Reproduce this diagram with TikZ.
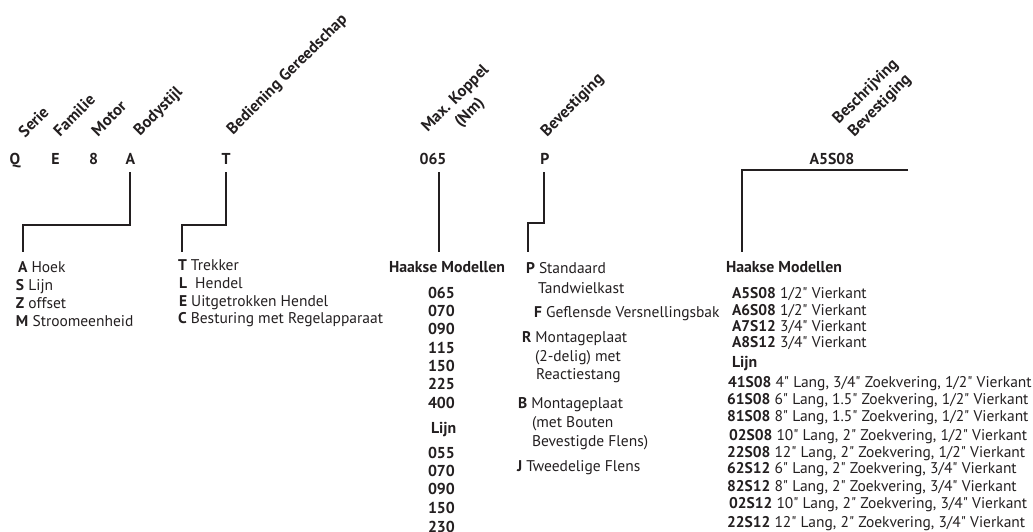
\documentclass[tikz,border=0pt]{standalone}
\usepackage{fontspec}
\setmainfont{PT Sans}[Ligatures=TeXOff]
\definecolor{ink}{HTML}{231F20}
\newcommand\rmsize{\fontsize{15.5}{17}\selectfont}
\newcommand\bfsize{\fontsize{15.8}{17}\selectfont\bfseries}
\begin{document}
\begin{tikzpicture}[x=1pt,y=-1pt,
  every node/.style={inner sep=0pt, outer sep=0pt, text=ink, font=\rmsize},
  code/.style={anchor=base, font=\bfsize},
  hdr/.style={anchor=base west, rotate=45, font=\fontsize{16.2}{17}\selectfont\bfseries},
  hdr2/.style={anchor=center, rotate=45, align=center, font=\fontsize{16.2}{20}\selectfont\bfseries},
  item/.style={anchor=base west},
  bitem/.style={anchor=base west, font=\bfsize},
  conn/.style={draw=ink, line width=1.9pt}]
\useasboundingbox (0,0) rectangle (1033,531);

% type code letters
\node[code] (cQ) at (15,164) {Q};
\node[code] (cE) at (55.5,164) {E};
\node[code] (c8) at (93.5,164) {8};
\node[code] (cA) at (130.5,164) {A};
\node[code] (cT) at (226,164) {T};
\node[code] (cK) at (433,164) {065};
\node[code] (cP) at (545,164) {P};
\node[code] (cB) at (832,164) {A5S08};

% slanted headings
\node[hdr] (hSerie) at (25,138) {Serie};
\node[hdr] (hFam) at (60,137) {Familie};
\node[hdr] (hMot) at (98,137) {Motor};
\node[hdr] (hBody) at (140,136) {Bodystijl};
\node[hdr] (hBed) at (233,135) {Bediening Gereedschap};
\node[hdr2] (hKop) at (463,106) {Max. Koppel\\(Nm)};
\node[hdr] (hBev) at (547,137) {Bevestiging};
\node[hdr2] (hBes) at (873,99) {Beschrijving\\Bevestiging};

% body style list
\node[item] (lA) at (18,272) {\textbf{A} Hoek};
\node[item] (lS) at (16,290) {\textbf{S} Lijn};
\node[item] (lZ) at (16,308) {\textbf{Z} offset};
\node[item] (lM) at (16,326) {\textbf{M} Stroomeenheid};

% operation list
\node[item] (lT) at (178,270) {\textbf{T} Trekker};
\node[item] (lL) at (179,288) {\textbf{L}\ \ Hendel};
\node[item] (lE) at (179,306) {\textbf{E} Uitgetrokken Hendel};
\node[item] (lC) at (178,323) {\textbf{C} Besturing met Regelapparaat};

% torque list
\node[anchor=base, font=\bfsize] (kH) at (447,272) {Haakse Modellen};
\foreach \n/\v/\y in {k1/065/298,k2/070/316,k3/090/334,k4/115/353,k5/150/371,k6/225/389,k7/400/408,
                      k9/055/458,k10/070/476,k11/090/494,k12/150/513,k13/230/532}
  \node[bitem] (\n) at (428,\y) {\v};
\node[bitem] (kL) at (431,433) {Lijn};

% mounting list
\node[item] (mP) at (526,273) {\textbf{P} Standaard};
\node[item] (mP2) at (538,293) {Tandwielkast};
\node[item] (mF) at (534,317) {\textbf{F} Geflensde Versnellingsbak};
\node[item] (mR) at (522,342) {\textbf{R} Montageplaat};
\node[item] (mR2) at (535,361) {(2-delig) met};
\node[item] (mR3) at (536,379) {Reactiestang};
\node[item] (mB) at (518,408) {\textbf{B} Montageplaat};
\node[item] (mB2) at (532,427) {(met Bouten};
\node[item] (mB3) at (532,446) {Bevestigde Flens)};
\node[item] (mJ) at (517,471) {\textbf{J} Tweedelige Flens};

% mounting description list
\node[bitem] (dH) at (726,272) {Haakse Modellen};
\node[item] (d1) at (732,298) {\textbf{A5S08} 1/2" Vierkant};
\node[item] (d2) at (732,315) {\textbf{A6S08} 1/2" Vierkant};
\node[item] (d3) at (732,331) {\textbf{A7S12} 3/4" Vierkant};
\node[item] (d4) at (732,347) {\textbf{A8S12} 3/4" Vierkant};
\node[bitem] (dL) at (732,367) {Lijn};
\node[item] (d5) at (728,387) {\textbf{41S08} 4" Lang, 3/4" Zoekvering, 1/2" Vierkant};
\node[item] (d6) at (727,404) {\textbf{61S08} 6" Lang, 1.5" Zoekvering, 1/2" Vierkant};
\node[item] (d7) at (727,421) {\textbf{81S08} 8" Lang, 1.5" Zoekvering, 1/2" Vierkant};
\node[item] (d8) at (729,440) {\textbf{02S08} 10" Lang, 2" Zoekvering, 1/2" Vierkant};
\node[item] (d9) at (727,457) {\textbf{22S08} 12" Lang, 2" Zoekvering, 1/2" Vierkant};
\node[item] (d10) at (727,473) {\textbf{62S12} 6" Lang, 2" Zoekvering, 3/4" Vierkant};
\node[item] (d11) at (727,491) {\textbf{82S12} 8" Lang, 2" Zoekvering, 3/4" Vierkant};
\node[item] (d12) at (729,508) {\textbf{02S12} 10" Lang, 2" Zoekvering, 3/4" Vierkant};
\node[item] (d13) at (727,527) {\textbf{22S12} 12" Lang, 2" Zoekvering, 3/4" Vierkant};

% connector bends
\coordinate (a0) at (130,172); \coordinate (a1) at (23,225); \coordinate (a2) at (23,252);
\coordinate (t0) at (226,172); \coordinate (t1) at (182,225); \coordinate (t2) at (182,252);
\coordinate (k0) at (439,172); \coordinate (k1e) at (439,252);
\coordinate (p0) at (544,172); \coordinate (p1) at (528,223); \coordinate (p2) at (528,252);
\coordinate (b0) at (908,170); \coordinate (b1) at (742,170); \coordinate (b2) at (742,252);

\draw[conn] (a0) |- (a1) -- (a2);
\draw[conn] (t0) |- (t1) -- (t2);
\draw[conn] (k0) -- (k1e);
\draw[conn] (p0) |- (p1) -- (p2);
\draw[conn] (b0) -- (b1) -- (b2);
\end{tikzpicture}
\end{document}
